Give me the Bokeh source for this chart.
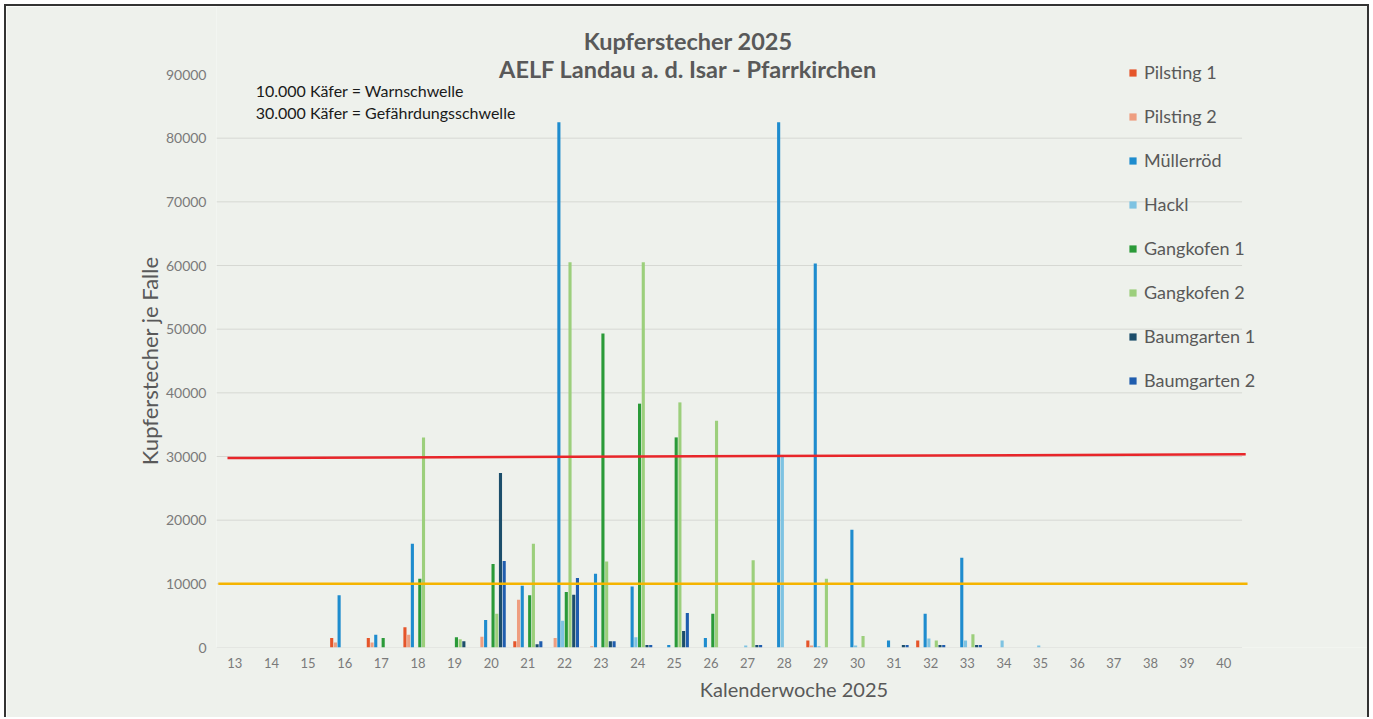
from bokeh.plotting import figure
from bokeh.models import (FixedTicker, Legend, LegendItem, Label, ColumnDataSource,
                          Range1d)
from bokeh.transform import dodge
from bokeh.embed import file_html
from bokeh.resources import INLINE

# ---------------- data ----------------
weeks = list(range(13, 41))
week_labels = [str(w) for w in weeks]

series_names = ["Pilsting 1", "Pilsting 2", "Müllerröd", "Hackl",
                "Gangkofen 1", "Gangkofen 2", "Baumgarten 1", "Baumgarten 2"]
series_colors = ["#E5552A", "#EE9E80", "#1E8CCE", "#7EC3E2",
                 "#2A9A38", "#9CCF7C", "#1C4E6B", "#1F5DAE"]

#              13 14 15  16    17    18    19    20     21    22     23     24     25     26     27     28     29     30     31    32    33    34    35  36 37 38 39 40
pilsting_1   = [0, 0, 0, 1500, 1500, 3200, 0,    0,     1000, 0,     0,     0,     0,     0,     0,     0,     1100,  0,     0,    1100, 0,    0,    0,  0, 0, 0, 0, 0]
pilsting_2   = [0, 0, 0, 800,  800,  2000, 0,    1700,  7500, 1500,  200,   0,     0,     0,     0,     0,     300,   0,     0,    0,    0,    0,    0,  0, 0, 0, 0, 0]
muelleroed   = [0, 0, 0, 8200, 2000, 16300, 0,   4300,  9700, 82500, 11600, 9600,  400,   1500,  0,     82500, 60300, 18500, 1100, 5300, 14100, 0,   0,  0, 0, 0, 0, 0]
hackl        = [0, 0, 0, 0,    0,    0,    0,    0,     0,    4200,  0,     1600,  0,     0,     300,   30000, 200,   300,   0,    1400, 1100, 1100, 300, 0, 0, 0, 0, 0]
gangkofen_1  = [0, 0, 0, 0,    1500, 10800, 1600, 13100, 8200, 8700, 49300, 38300, 33000, 5300,  0,     0,     0,     0,     0,    0,    0,    0,    0,  0, 0, 0, 0, 0]
gangkofen_2  = [0, 0, 0, 0,    0,    33000, 1300, 5300, 16300, 60500, 13500, 60500, 38500, 35600, 13700, 0,     10800, 1800,  0,    1100, 2100, 0,    0,  0, 0, 0, 0, 0]
baumgarten_1 = [0, 0, 0, 0,    0,    0,    1000, 27400, 500,  8300,  1000,  400,   2600,  0,     400,   0,     0,     0,     400,  400,  400,  0,    0,  0, 0, 0, 0, 0]
baumgarten_2 = [0, 0, 0, 0,    0,    0,    0,    13600, 1000, 10900, 1000,  400,   5400,  0,     400,   0,     0,     0,     400,  400,  400,  0,    0,  0, 0, 0, 0, 0]

y_ticks = [0, 10000, 20000, 30000, 40000, 50000, 60000, 70000, 80000, 90000]
grid_values = [0, 10000, 20000, 30000, 40000, 50000, 60000, 70000, 80000]
warn_threshold = 10000
danger_threshold = 30000

title_lines = ["Kupferstecher 2025", "AELF Landau a. d. Isar - Pfarrkirchen"]
note_lines = ["10.000 Käfer = Warnschwelle", "30.000 Käfer = Gefährdungsschwelle"]
x_title = "Kalenderwoche 2025"
y_title = "Kupferstecher je Falle"

# ---------------- layout constants (pixels) ----------------
ORIGIN = 6                # page position of the canvas (margin 4 + border 2)
W, H = 1365, 713
CW, CH = W - 4, H
FRAME_LEFT_PAGE = 216
FRAME_BOTTOM_PAGE = 647
PX_PER_WEEK = 36.5
PX_PER_UNIT_Y = 573 / 90000.0

min_left = FRAME_LEFT_PAGE - ORIGIN
min_bottom = CH - (FRAME_BOTTOM_PAGE - ORIGIN)
frame_w = CW - min_left
frame_h = FRAME_BOTTOM_PAGE - ORIGIN

x_lo = weeks[0] - 0.5
x_hi = x_lo + frame_w / PX_PER_WEEK
y_hi = frame_h / PX_PER_UNIT_Y

BG = "#eef1ec"
FONT = "Lato"
GREY = "#595959"

p = figure(width=W, height=H,
           x_range=Range1d(x_lo, x_hi), y_range=Range1d(0, y_hi),
           output_backend="svg", toolbar_location=None,
           min_border_left=min_left, min_border_right=0,
           min_border_top=0, min_border_bottom=min_bottom)
p.background_fill_color = BG
p.border_fill_color = BG
p.outline_line_color = None
p.styles = {"margin": "4px 0 0 4px", "border": "2px solid #333333",
            "border-bottom": "none", "box-sizing": "border-box"}

p.xgrid.grid_line_color = None
p.ygrid.grid_line_color = None

# axes
p.xaxis.ticker = FixedTicker(ticks=weeks)
p.xaxis.major_label_overrides = {w: l for w, l in zip(weeks, week_labels)}
p.yaxis.ticker = FixedTicker(ticks=y_ticks)
p.yaxis.major_label_overrides = {t: str(t) for t in y_ticks}
for ax in (p.xaxis[0], p.yaxis[0]):
    ax.major_tick_in = 0
    ax.major_tick_out = 0
    ax.minor_tick_in = 0
    ax.minor_tick_out = 0
    ax.axis_line_color = None
    ax.major_label_text_color = "#7a7a7a"
    ax.major_label_text_font = FONT
    ax.axis_label_text_font = FONT
    ax.axis_label_text_font_style = "normal"
    ax.axis_label_text_color = GREY
p.xaxis.axis_label_text_font_size = "20px"
p.yaxis.axis_label_text_font_size = "22px"
p.xaxis.major_label_text_font_size = "13px"
p.yaxis.major_label_text_font_size = "14px"
p.xaxis.major_label_standoff = 10
p.yaxis.major_label_standoff = 10
p.xaxis.axis_label = x_title
# the frame reaches the top of the canvas; pad the end so the visible text sits
# centred on the 0..90000 part of the axis
p.yaxis.axis_label = y_title + "\u00a0" * 12
p.xaxis.axis_label_standoff = 6
p.yaxis.axis_label_standoff = 0

# horizontal gridlines (within the category band)
band_lo = weeks[0] - 0.5
band_hi = weeks[-1] + 0.5
p.segment(x0=[band_lo] * len(grid_values), x1=[band_hi] * len(grid_values),
          y0=grid_values, y1=grid_values, line_color="#d6d8d3", line_width=1)

# bars
data = {"week": weeks}
cols = ["p1", "p2", "m", "h", "g1", "g2", "b1", "b2"]
values = [pilsting_1, pilsting_2, muelleroed, hackl,
          gangkofen_1, gangkofen_2, baumgarten_1, baumgarten_2]
for c, v in zip(cols, values):
    data[c] = v
src = ColumnDataSource(data)

step = 0.1014
bar_w = 0.085
items = []
for i, (c, name, color) in enumerate(zip(cols, series_names, series_colors)):
    off = (i - 3.5) * step
    r = p.vbar(x=dodge("week", off, range=p.x_range), top=c, width=bar_w,
               source=src, fill_color=color, line_color=None)
    items.append(LegendItem(label=name, renderers=[r]))

# thresholds
p.segment(x0=[band_lo + 0.05], x1=[band_hi + 0.15], y0=[warn_threshold], y1=[warn_threshold],
          line_color="#F5B400", line_width=2.5)
p.segment(x0=[band_lo + 0.3], x1=[band_hi + 0.1], y0=[danger_threshold - 250],
          y1=[danger_threshold + 350], line_color="#E8262A", line_width=2.5)

# legend (inside the frame, top-right)
legend = Legend(items=items, location=(912, 256),
                orientation="vertical",
                label_text_font=FONT, label_text_font_size="18px",
                label_text_color=GREY,
                glyph_width=9, glyph_height=9, label_height=22,
                label_standoff=7, spacing=22, padding=0, margin=0,
                background_fill_alpha=0, border_line_alpha=0)
p.add_layout(legend)

def ypx(px):
    """page-pixel row -> data value."""
    return (FRAME_BOTTOM_PAGE - px) / PX_PER_UNIT_Y

def xpx(px):
    return x_lo + (px - FRAME_LEFT_PAGE) / PX_PER_WEEK

# title (two lines)
for txt, row in zip(title_lines, [40, 68]):
    p.add_layout(Label(x=xpx(686), y=ypx(row), text=txt,
                       text_font=FONT, text_font_style="bold", text_font_size="23.5px",
                       text_color=GREY, text_align="center", text_baseline="middle"))

# notes
for txt, row in zip(note_lines, [90, 112]):
    p.add_layout(Label(x=xpx(255), y=ypx(row), text=txt,
                       text_font=FONT, text_font_size="16px",
                       text_color="#1a1a1a", text_align="left", text_baseline="middle"))

open("out.html", "w").write(file_html(p, INLINE))
